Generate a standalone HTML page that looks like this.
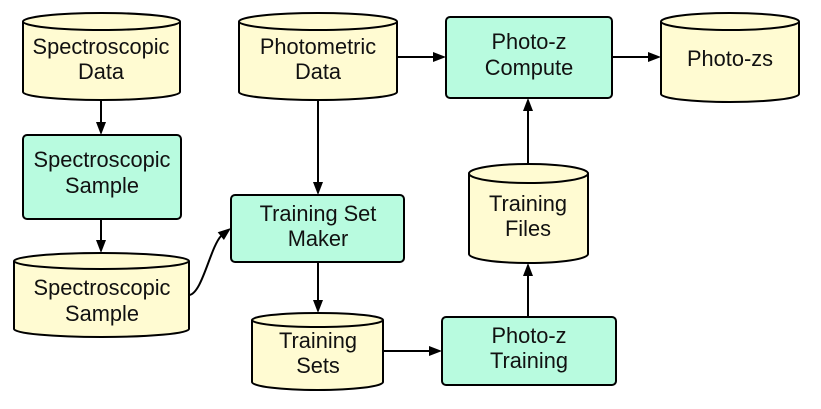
<!DOCTYPE html>
<html><head><meta charset="utf-8"><style>
html,body{margin:0;padding:0;background:#fff;}
svg{display:block;}
text{font-family:"Liberation Sans",Arial,sans-serif;font-size:21.8px;fill:#111;text-anchor:middle;}
</style></head><body>
<svg width="821" height="409" viewBox="0 0 821 409" xmlns="http://www.w3.org/2000/svg">
<g stroke="#000" stroke-width="2" fill="#fffbd2">
  <path d="M23,21.5 L23,92 A78.5,8 0 0 0 180,92 L180,21.5 A78.5,8.5 0 0 0 23,21.5 Z"/>
  <path d="M23,21.5 A78.5,8.5 0 0 0 180,21.5" fill="none"/>
  <path d="M239,21.5 L239,92 A79,8 0 0 0 397,92 L397,21.5 A79,8.5 0 0 0 239,21.5 Z"/>
  <path d="M239,21.5 A79,8.5 0 0 0 397,21.5" fill="none"/>
  <path d="M661,21.5 L661,94 A69,8 0 0 0 799,94 L799,21.5 A69,8.5 0 0 0 661,21.5 Z"/>
  <path d="M661,21.5 A69,8.5 0 0 0 799,21.5" fill="none"/>
  <path d="M14,261 L14,329 A87.5,8 0 0 0 189,329 L189,261 A87.5,8 0 0 0 14,261 Z"/>
  <path d="M14,261 A87.5,8 0 0 0 189,261" fill="none"/>
  <path d="M252,320 L252,382 A65.5,8 0 0 0 383,382 L383,320 A65.5,7 0 0 0 252,320 Z"/>
  <path d="M252,320 A65.5,7 0 0 0 383,320" fill="none"/>
  <path d="M469,173.5 L469,254 A59.5,9 0 0 0 588,254 L588,173.5 A59.5,9.5 0 0 0 469,173.5 Z"/>
  <path d="M469,173.5 A59.5,9.5 0 0 0 588,173.5" fill="none"/>
</g>
<g stroke="#000" stroke-width="2" fill="#b8fbdf">
  <rect x="23" y="135" width="158" height="84" rx="4" ry="4"/>
  <rect x="231" y="195" width="173" height="67" rx="4" ry="4"/>
  <rect x="446" y="17" width="166" height="81" rx="4" ry="4"/>
  <rect x="442" y="317" width="174" height="68" rx="4" ry="4"/>
</g>
<g stroke="#000" stroke-width="2" fill="none">
  <line x1="101" y1="100" x2="101" y2="123"/>
  <line x1="101" y1="219" x2="101" y2="241"/>
  <line x1="318" y1="100" x2="318" y2="183"/>
  <line x1="318" y1="262" x2="318" y2="301"/>
  <line x1="383" y1="351" x2="430" y2="351"/>
  <line x1="528" y1="317" x2="528" y2="275"/>
  <line x1="528" y1="164" x2="528" y2="110"/>
  <line x1="397" y1="57" x2="434" y2="57"/>
  <line x1="612" y1="57" x2="649" y2="57"/>
  <path d="M189,295 C202,294 210,248 221,236"/>
</g>
<g fill="#000" stroke="none">
  <polygon points="101,135 96,122 106,122"/>
  <polygon points="101,253 96,240 106,240"/>
  <polygon points="318,195 313,182 323,182"/>
  <polygon points="318,313 313,300 323,300"/>
  <polygon points="442,351 429,346 429,356"/>
  <polygon points="528,263 523,276 533,276"/>
  <polygon points="528,98 523,111 533,111"/>
  <polygon points="446,57 433,52 433,62"/>
  <polygon points="661,57 648,52 648,62"/>
  <polygon points="231,228 223.9,240 217.7,232.2"/>
</g>
<text x="101" y="54">Spectroscopic</text>
<text x="101" y="79">Data</text>
<text x="318" y="54">Photometric</text>
<text x="318" y="79">Data</text>
<text x="529" y="49">Photo-z</text>
<text x="529" y="75">Compute</text>
<text x="730" y="66">Photo-zs</text>
<text x="102" y="167">Spectroscopic</text>
<text x="102" y="193">Sample</text>
<text x="318" y="221">Training Set</text>
<text x="318" y="246">Maker</text>
<text x="102" y="295">Spectroscopic</text>
<text x="102" y="321">Sample</text>
<text x="318" y="348">Training</text>
<text x="318" y="373">Sets</text>
<text x="528" y="211">Training</text>
<text x="528" y="236">Files</text>
<text x="529" y="343">Photo-z</text>
<text x="529" y="368">Training</text>
</svg>
</body></html>
